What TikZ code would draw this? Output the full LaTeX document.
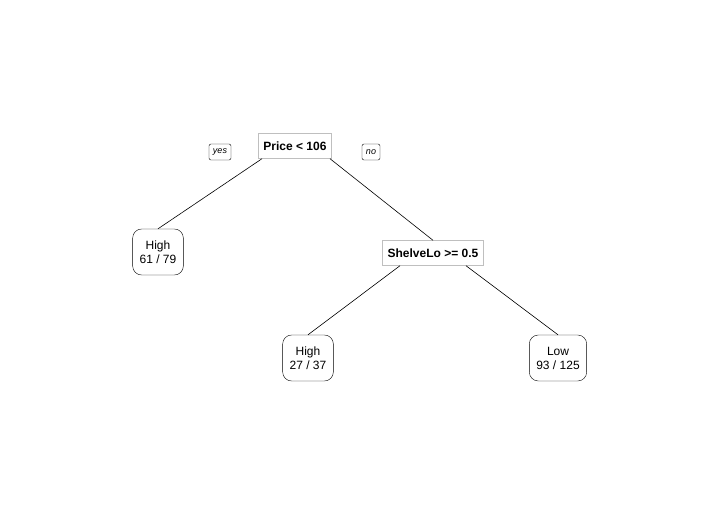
\documentclass[tikz,border=0pt]{standalone}
\usepackage{fontspec}
\setmainfont{Liberation Sans}
\begin{document}
\begin{tikzpicture}[x=1pt,y=-1pt,
  split/.style={draw=black!25,fill=white,font=\bfseries\fontsize{12}{14}\selectfont,minimum height=25pt,inner xsep=5pt},
  leaf/.style={draw,rounded corners=9pt,align=center,font=\fontsize{12}{14}\selectfont,minimum height=46pt,inner xsep=7pt},
  lab/.style={draw,rounded corners=2pt,font=\itshape\fontsize{9}{10}\selectfont,minimum height=16pt,inner xsep=4pt,inner ysep=1pt},
  edge/.style={draw,line width=0.6pt}]
\useasboundingbox (0,0) rectangle (720,514);
\node[split] (root) at (295,146) {Price < 106};
\node[lab] (yes) at (220,152) {yes};
\node[lab] (no) at (371,152) {no};
\node[leaf] (l1) at (158,252) {High\\61 / 79};
\node[split] (s2) at (433,253) {ShelveLo >= 0.5};
\node[leaf] (l2) at (308,358) {High\\27 / 37};
\node[leaf] (l3) at (558,358) {Low\\93 / 125};
\draw[edge] ([xshift=-33pt]root.south) -- (l1.north);
\draw[edge] ([xshift=35pt]root.south) -- (s2.north);
\draw[edge] ([xshift=-33pt]s2.south) -- (l2.north);
\draw[edge] ([xshift=33pt]s2.south) -- (l3.north);
\end{tikzpicture}
\end{document}
